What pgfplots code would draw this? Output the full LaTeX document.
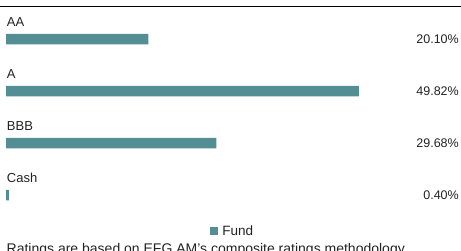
\documentclass[border=0pt]{standalone}
\usepackage{pgfplots}
\pgfplotsset{compat=1.18}
\usepackage{fontspec}
\setmainfont{Liberation Sans}
\definecolor{barteal}{HTML}{538E94}
\definecolor{txt}{HTML}{222222}
\begin{document}
\begin{tikzpicture}[x=1pt,y=1pt]
\path[use as bounding box, clip] (0,0) rectangle (461,251);
\draw[black, line width=1.4pt] (0,244.3) -- (461,244.3);
\begin{axis}[
  at={(6pt,30pt)}, anchor=south west,
  scale only axis, width=453pt, height=208pt,
  xbar, bar width=10.5pt,
  xmin=0, xmax=63.94,
  ymin=-0.5, ymax=3.5, y dir=reverse,
  hide axis,
  clip=false,
  legend style={at={(0.5,-0.048)}, anchor=center, draw=none, fill=none,
    font=\fontsize{13.5}{15}\selectfont\color{txt}, inner sep=0pt,
    /tikz/every even column/.append style={column sep=0pt}},
  legend image code/.code={\fill[barteal] (0pt,-4.2pt) rectangle (8.5pt,4.2pt);},
]
\addplot[fill=barteal, draw=none] coordinates {(20.10,0) (49.82,1) (29.68,2) (0.40,3)};
\addlegendentry{\hspace{2pt}Fund}
\foreach \lab/\val/\i in {AA/20.10/0, A/49.82/1, BBB/29.68/2, Cash/0.40/3}{
  \edef\tmp{\noexpand\node[anchor=base west, inner sep=0pt, text=txt, font=\noexpand\fontsize{13}{15}\noexpand\selectfont] at (axis cs:0.1,\i) [yshift=12.5pt] {\lab};
  \noexpand\node[anchor=east, inner sep=0pt, text=txt, font=\noexpand\fontsize{12.5}{14}\noexpand\selectfont] at (axis cs:63.94,\i) {\val\noexpand\%};}
  \tmp
}
\end{axis}
\node[anchor=base west, inner sep=0pt, text=txt, font=\fontsize{14}{16}\selectfont] at (6.5,-2.2) {Ratings are based on EFG AM’s composite ratings methodology};
\end{tikzpicture}
\end{document}
